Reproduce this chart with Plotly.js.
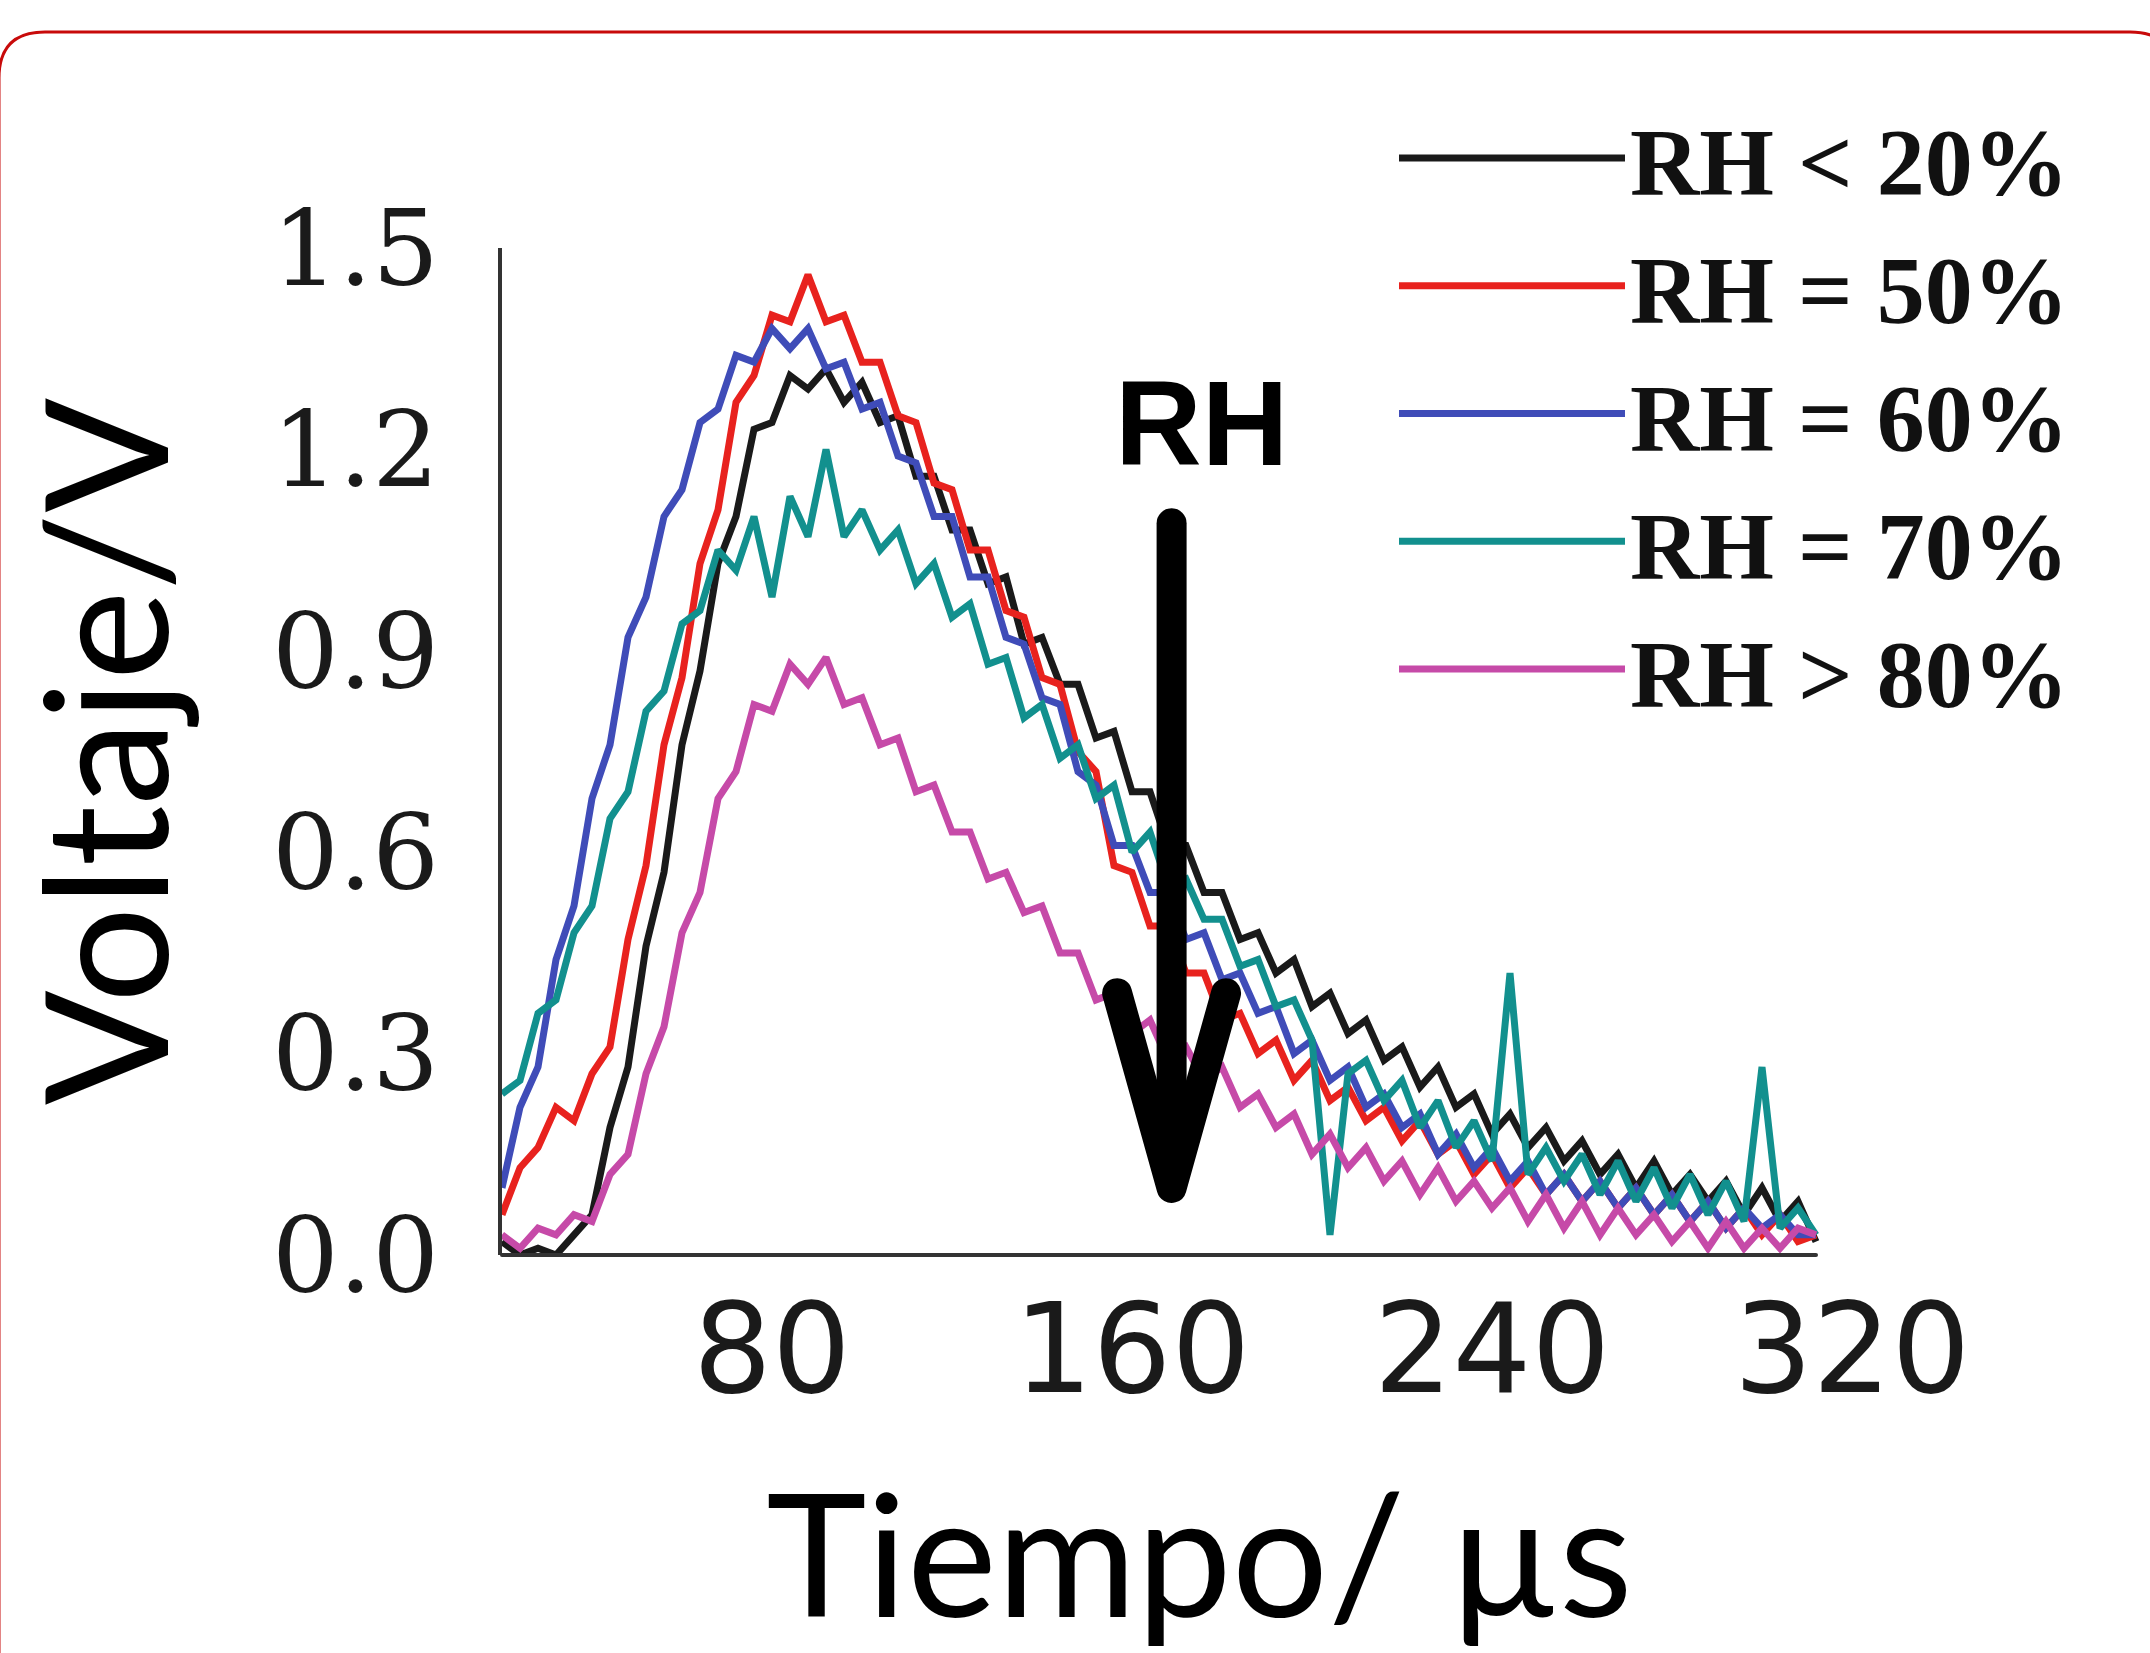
<!DOCTYPE html>
<html>
<head>
<meta charset="utf-8">
<script src="https://cdn.plot.ly/plotly-3.0.1.min.js"></script>
<style>
  html, body { margin: 0; padding: 0; background: #fff; }
  #chart { width: 2150px; height: 1653px; }
</style>
</head>
<body>
<div id="chart"></div>
<script>
// ---- data ----
const timeUs = [20,24,28,32,36,40,44,48,52,56,60,64,68,72,76,80,84,88,92,96,100,104,108,112,116,120,124,128,132,136,140,144,148,152,156,160,164,168,172,176,180,184,188,192,196,200,204,208,212,216,220,224,228,232,236,240,244,248,252,256,260,264,268,272,276,280,284,288,292,296,300,304,308,312];

const rh20 = [0.02,0.00,0.01,0.00,0.03,0.06,0.19,0.28,0.46,0.57,0.76,0.87,1.03,1.10,1.23,1.24,1.31,1.29,1.32,1.27,1.30,1.24,1.25,1.16,1.16,1.08,1.08,1.00,1.01,0.91,0.92,0.85,0.85,0.77,0.78,0.69,0.69,0.61,0.61,0.54,0.54,0.47,0.48,0.42,0.44,0.37,0.39,0.33,0.35,0.29,0.31,0.25,0.28,0.22,0.24,0.18,0.21,0.16,0.19,0.14,0.17,0.12,0.15,0.10,0.14,0.09,0.12,0.08,0.11,0.06,0.10,0.05,0.08,0.02];

const rh50 = [0.06,0.13,0.16,0.22,0.20,0.27,0.31,0.47,0.58,0.76,0.86,1.03,1.11,1.27,1.31,1.40,1.39,1.46,1.39,1.40,1.33,1.33,1.25,1.24,1.15,1.14,1.05,1.05,0.96,0.95,0.86,0.85,0.75,0.72,0.58,0.57,0.49,0.49,0.42,0.42,0.35,0.36,0.30,0.32,0.26,0.29,0.23,0.25,0.20,0.22,0.17,0.20,0.15,0.17,0.12,0.15,0.10,0.13,0.09,0.12,0.08,0.11,0.07,0.10,0.06,0.09,0.05,0.08,0.04,0.07,0.03,0.06,0.02,0.03];

const rh60 = [0.10,0.22,0.28,0.44,0.52,0.68,0.76,0.92,0.98,1.10,1.14,1.24,1.26,1.34,1.33,1.38,1.35,1.38,1.32,1.33,1.26,1.27,1.19,1.18,1.10,1.10,1.01,1.01,0.92,0.91,0.83,0.82,0.72,0.70,0.61,0.61,0.54,0.54,0.47,0.48,0.41,0.42,0.36,0.37,0.30,0.32,0.26,0.28,0.22,0.24,0.19,0.21,0.15,0.18,0.13,0.16,0.11,0.14,0.09,0.12,0.08,0.11,0.07,0.10,0.06,0.09,0.05,0.08,0.04,0.07,0.04,0.06,0.03,0.03];

const rh70 = [0.24,0.26,0.36,0.38,0.48,0.52,0.65,0.69,0.81,0.84,0.94,0.96,1.05,1.02,1.10,0.98,1.13,1.07,1.20,1.07,1.11,1.05,1.08,1.00,1.03,0.95,0.97,0.88,0.89,0.80,0.82,0.74,0.76,0.68,0.70,0.60,0.63,0.55,0.56,0.50,0.50,0.43,0.44,0.37,0.38,0.32,0.03,0.27,0.29,0.23,0.26,0.19,0.23,0.16,0.20,0.14,0.42,0.12,0.16,0.11,0.15,0.09,0.14,0.08,0.13,0.07,0.12,0.06,0.11,0.05,0.28,0.04,0.07,0.03];

const rh80 = [0.03,0.01,0.04,0.03,0.06,0.05,0.12,0.15,0.27,0.34,0.48,0.54,0.68,0.72,0.82,0.81,0.88,0.85,0.89,0.82,0.83,0.76,0.77,0.69,0.70,0.63,0.63,0.56,0.57,0.51,0.52,0.45,0.45,0.38,0.39,0.33,0.35,0.29,0.31,0.26,0.28,0.22,0.24,0.19,0.21,0.15,0.18,0.13,0.16,0.11,0.14,0.09,0.13,0.08,0.11,0.07,0.10,0.05,0.09,0.04,0.08,0.03,0.07,0.03,0.06,0.02,0.05,0.01,0.05,0.01,0.04,0.01,0.04,0.03];

const seriesNames  = ["RH < 20%", "RH = 50%", "RH = 60%", "RH = 70%", "RH > 80%"];
const seriesValues = [rh20, rh50, rh60, rh70, rh80];
const seriesColors = ["#1a1a1a", "#e8221e", "#3f4cb8", "#12908e", "#c64aa8"];

const xTickVals = [80, 160, 240, 320];
const yTickVals = [0, 0.3, 0.6, 0.9, 1.2, 1.5];
const yTickText = ["0.0", "0.3", "0.6", "0.9", "1.2", "1.5"];

// ---- layout geometry (pixels) ----
const W = 2150, H = 1653;
const ML = 502, MR = 253, MT = 248, MB = 398;
const plotW = W - ML - MR, plotH = H - MT - MB;
const xRange = [20, 330];
const yRange = [0, 1.5];
const px = x => (x - ML) / plotW;          // pixel -> paper x
const py = y => (H - MB - y) / plotH;      // pixel -> paper y
const fx = v => (v - xRange[0]) / (xRange[1] - xRange[0]); // data -> paper x

const traces = seriesValues.map((vals, i) => ({
  type: "scatter",
  mode: "lines",
  name: seriesNames[i],
  x: timeUs,
  y: vals,
  line: { color: seriesColors[i], width: 7 },
  hoverinfo: "skip"
}));

// red rounded frame (decoration)
const fl = -1, fr = 2176, ft = 32, fb = 1680, rad = 46;
const framePath =
  `M ${px(fl)},${py(fb)} L ${px(fl)},${py(ft + rad)} ` +
  `Q ${px(fl)},${py(ft)} ${px(fl + rad)},${py(ft)} ` +
  `L ${px(fr - rad)},${py(ft)} Q ${px(fr)},${py(ft)} ${px(fr)},${py(ft + rad)} ` +
  `L ${px(fr)},${py(fb)}`;

const tStart = timeUs[0], tEnd = timeUs[timeUs.length - 1];

const layout = {
  width: W, height: H,
  margin: { l: ML, r: MR, t: MT, b: MB, pad: 0 },
  paper_bgcolor: "#ffffff",
  plot_bgcolor: "#ffffff",
  showlegend: true,
  xaxis: {
    range: xRange,
    showgrid: false, zeroline: false, showline: false,
    tickmode: "array", tickvals: xTickVals,
    ticks: "",
    ticklabelstandoff: 12,
    tickfont: { family: "DejaVu Sans, Liberation Sans, sans-serif", stretch: "condensed", size: 124, color: "#1a1a1a" },
    title: { text: "Tiempo/ µs", standoff: 80,
             font: { family: "Lato, Open Sans, sans-serif", size: 170, color: "#000" } }
  },
  yaxis: {
    range: yRange,
    showgrid: false, zeroline: false,
    showline: true, linecolor: "#333", linewidth: 4,
    tickmode: "array", tickvals: yTickVals, ticktext: yTickText,
    ticks: "",
    ticklabelstandoff: 38,
    tickfont: { family: "DejaVu Serif, Liberation Serif, serif", size: 105, color: "#1a1a1a" },
    title: { text: "Voltaje/V", standoff: 90,
             font: { family: "Lato, Open Sans, sans-serif", size: 170, color: "#000" } }
  },
  legend: {
    x: px(1394), y: py(89), xanchor: "left", yanchor: "top",
    itemwidth: 226,
    bgcolor: "rgba(0,0,0,0)",
    font: { family: "Liberation Serif, serif", size: 96, color: "#111", weight: "bold" },
    tracegroupgap: 0
  },
  annotations: [
    { text: "<b>RH</b>", xref: "x", yref: "y", x: 175.5, y: 1.24,
      showarrow: false, xanchor: "center", yanchor: "middle",
      font: { family: "Liberation Sans, Arial, sans-serif", size: 120, color: "#000" } }
  ],
  shapes: [
    // x axis line
    { type: "line", xref: "paper", yref: "paper", x0: Math.max(0, fx(tStart)), x1: fx(tEnd), y0: 0, y1: 0,
      line: { color: "#333", width: 4 }, layer: "above" },
    // arrow shaft
    { type: "line", xref: "x", yref: "y", x0: 168.8, x1: 168.8, y0: 1.09, y1: 0.11,
      line: { color: "#000", width: 30 }, layer: "above" },
    // arrow head (open V)
    { type: "path", xref: "x", yref: "y",
      path: "M 156.7,0.39 L 168.8,0.10 L 180.9,0.39",
      line: { color: "#000", width: 30 }, layer: "above" },
    // frame
    { type: "path", xref: "paper", yref: "paper", path: framePath,
      line: { color: "#c80a0a", width: 3 }, layer: "above" }
  ]
};

Plotly.newPlot("chart", traces, layout, { displayModeBar: false, staticPlot: true }).then(() => {
  document.querySelectorAll(".shapelayer path").forEach(p => {
    p.style.strokeLinecap = "round";
    p.style.strokeLinejoin = "round";
  });
});
</script>
</body>
</html>
